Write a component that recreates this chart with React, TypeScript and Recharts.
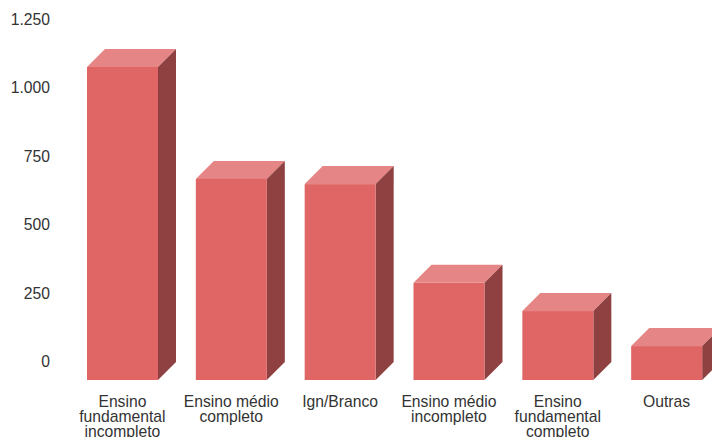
import React from "react";
import { BarChart, Bar, XAxis, YAxis } from "recharts";

const categories = [
  "Ensino fundamental incompleto",
  "Ensino médio completo",
  "Ign/Branco",
  "Ensino médio incompleto",
  "Ensino fundamental completo",
  "Outras",
];
const categoryLines: string[][] = [
  ["Ensino", "fundamental", "incompleto"],
  ["Ensino médio", "completo"],
  ["Ign/Branco"],
  ["Ensino médio", "incompleto"],
  ["Ensino", "fundamental", "completo"],
  ["Outras"],
];
const values = [1144, 735, 716, 355, 252, 124];
const valueTicks = [0, 250, 500, 750, 1000, 1250];

const rows = categories.map((name, i) => ({ name, value: values[i], lines: categoryLines[i] }));

const DEPTH = 18;
const FRONT = "#e06666";
const TOP = "#e58585";
const SIDE = "#8f4141";
const TEXT = "#333333";
const FONT = "'Liberation Sans', Arial, sans-serif";

// Extruded box: the scale's rectangle is the back wall, the front face sits one depth lower left.
function Box(props: any) {
  const { x, y, width: w, height: h } = props;
  const fy = y + DEPTH;
  return (
    <g>
      <polygon points={`${x},${fy} ${x + DEPTH},${y} ${x + w + DEPTH},${y} ${x + w},${fy}`} fill={TOP} />
      <polygon
        points={`${x + w},${fy} ${x + w + DEPTH},${y} ${x + w + DEPTH},${y + h} ${x + w},${fy + h}`}
        fill={SIDE}
      />
      <rect x={x} y={fy} width={w} height={h} fill={FRONT} />
    </g>
  );
}

function CategoryTick(props: any) {
  const { x, payload, index } = props;
  const lines = categoryLines[index] ?? [payload.value];
  return (
    <text textAnchor="middle" fontFamily={FONT} fontSize={15.7} fill={TEXT}>
      {lines.map((line, i) => (
        <tspan key={line} x={x} y={407 + i * 15.2}>
          {line}
        </tspan>
      ))}
    </text>
  );
}

const formatThousands = (v: number) => (v >= 1000 ? `${Math.floor(v / 1000)}.${String(v % 1000).padStart(3, "0")}` : String(v));

export default function App() {
  return (
    <div style={{ position: "absolute", left: 0, top: 0, width: 712, height: 437, overflow: "hidden", background: "#fff" }}>
      <BarChart
        width={721}
        height={437}
        data={rows}
        margin={{ top: 20, right: 0, bottom: 0, left: 0 }}
      >
        <XAxis
          dataKey="name"
          height={75}
          axisLine={false}
          tickLine={false}
          interval={0}
          tick={<CategoryTick />}
        />
        <YAxis
          width={68}
          domain={[0, 1250]}
          ticks={valueTicks}
          axisLine={false}
          tickLine={false}
          tickMargin={10}
          tickFormatter={formatThousands}
          tick={{ fontFamily: FONT, fontSize: 15.7, fill: TEXT, dx: -2, dy: -0.5 }}
        />
        <Bar dataKey="value" barSize={71} shape={<Box />} isAnimationActive={false} />
      </BarChart>
    </div>
  );
}
